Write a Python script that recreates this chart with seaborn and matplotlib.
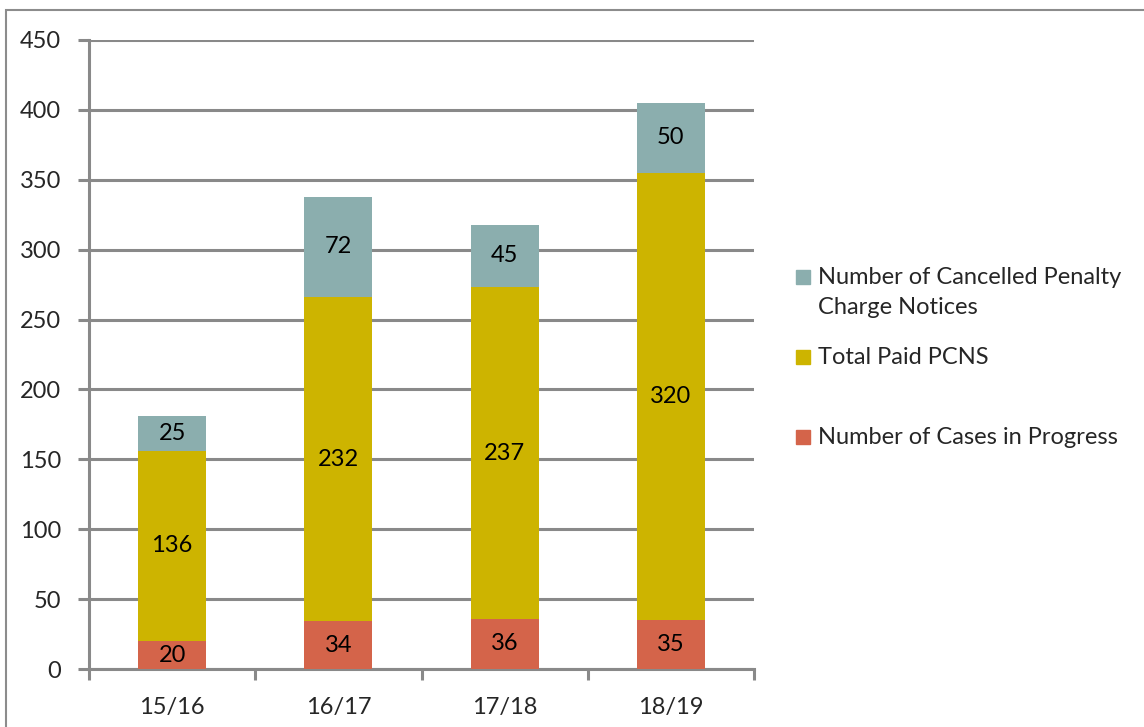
import numpy as np
import pandas as pd
import matplotlib.pyplot as plt
import seaborn as sb
from matplotlib.patches import Rectangle

# chart values
years = ['15/16', '16/17', '17/18', '18/19']
cases_in_progress = [20, 34, 36, 35]
total_paid = [136, 232, 237, 320]
cancelled = [25, 72, 45, 50]

sb.set_style("white")
plt.rcParams['font.family'] = ['Lato', 'DejaVu Sans']

c_cases = '#D4644A'
c_paid = '#CDB400'
c_cancel = '#8BAEAE'
grid_c = '#898989'
fs = 17

df = pd.DataFrame({'year': years, 'cases': cases_in_progress,
                   'paid': total_paid, 'cancel': cancelled})
df['paid_bottom'] = df['cases']
df['cancel_bottom'] = df['cases'] + df['paid']

fig = plt.figure(figsize=(11.44, 7.27), dpi=100)
ax = fig.add_axes([89 / 1144, 58 / 727, 665 / 1144, 629 / 727])

w = 0.41
sb.barplot(data=df, x='year', y='cases', color=c_cases, width=w, ax=ax,
           saturation=1, linewidth=0, zorder=3)
sb.barplot(data=df, x='year', y='paid', color=c_paid, width=w, ax=ax,
           saturation=1, linewidth=0, bottom=df['paid_bottom'], zorder=3)
sb.barplot(data=df, x='year', y='cancel', color=c_cancel, width=w, ax=ax,
           saturation=1, linewidth=0, bottom=df['cancel_bottom'], zorder=3)

# segment labels
for i in range(len(years)):
    base = 0
    for v in (cases_in_progress[i], total_paid[i], cancelled[i]):
        ax.text(i, base + v / 2, str(v), ha='center', va='center',
                fontsize=fs, color='black', zorder=4)
        base += v

ax.set_xlim(-0.5, 3.5)
ax.set_ylim(0, 450)
ax.set_yticks(np.arange(0, 451, 50))
ax.set_xlabel('')
ax.set_ylabel('')

# category boundaries as major ticks, labels as minor ticks
ax.set_xticks(np.arange(-0.5, 3.6, 1))
ax.set_xticklabels([])
ax.set_xticks(range(len(years)), minor=True)
ax.set_xticklabels(years, minor=True)
ax.tick_params(axis='x', which='major', bottom=True, length=8, width=2.2,
               color=grid_c, direction='out')
ax.tick_params(axis='x', which='minor', bottom=True, length=0, pad=20,
               labelsize=fs)
ax.tick_params(axis='y', left=True, length=8, width=2.2, color=grid_c,
               direction='out', labelsize=fs, pad=12)

ax.yaxis.grid(True, color=grid_c, linewidth=2.2, zorder=0)
ax.set_axisbelow(True)
for s in ['top', 'right']:
    ax.spines[s].set_visible(False)
for s in ['left', 'bottom']:
    ax.spines[s].set_color(grid_c)
    ax.spines[s].set_linewidth(2.2)

# legend drawn by hand to keep Excel-like spacing
legend = [(c_cancel, 'Number of Cancelled Penalty\nCharge Notices', 277),
          (c_paid, 'Total Paid PCNS', 357),
          (c_cases, 'Number of Cases in Progress', 437)]
for col, lab, ypx in legend:
    fig.patches.append(Rectangle((796 / 1144, 1 - (ypx + 7) / 727),
                                 14 / 1144, 14 / 727, color=col,
                                 transform=fig.transFigure))
    fig.text(818 / 1144, 1 - (ypx - 10) / 727, lab, ha='left', va='top',
             fontsize=fs, linespacing=1.55)

# outer border
fig.patches.append(Rectangle((6 / 1144, -0.1), 1.2, 1.1 - 10 / 727,
                             fill=False, edgecolor='#8C8C8C', linewidth=1.5,
                             transform=fig.transFigure))

fig.savefig('out.png', dpi=100)
